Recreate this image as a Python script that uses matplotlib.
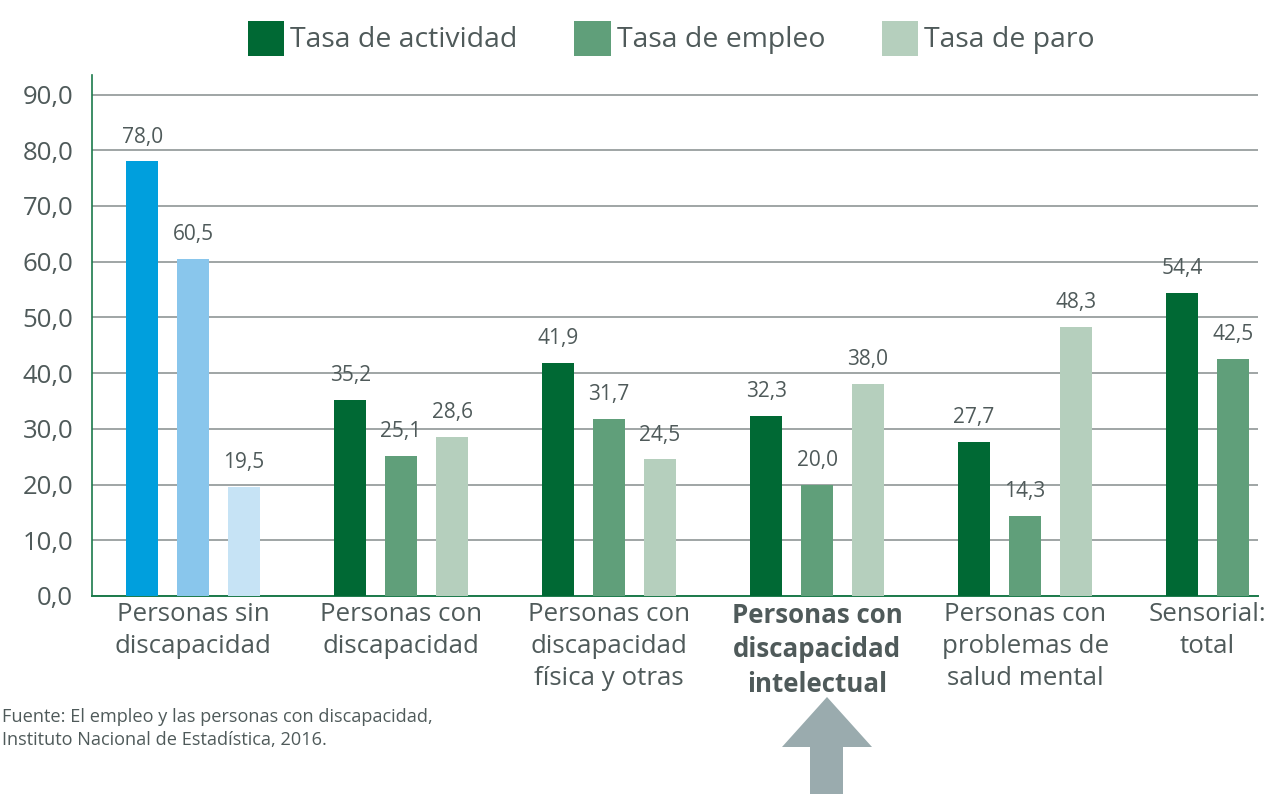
import matplotlib
matplotlib.use("Agg")
import matplotlib.pyplot as plt
from matplotlib.patches import Polygon
import numpy as np

plt.rcParams['font.family'] = ['Open Sans', 'DejaVu Sans']

categories = ["Personas sin\ndiscapacidad", "Personas con\ndiscapacidad",
              "Personas con\ndiscapacidad\nfísica y otras",
              "Personas con\ndiscapacidad\nintelectual",
              "Personas con\nproblemas de\nsalud mental", "Sensorial:\ntotal"]
series_names = ["Tasa de actividad", "Tasa de empleo", "Tasa de paro"]
actividad = [78.0, 35.2, 41.9, 32.3, 27.7, 54.4]
empleo = [60.5, 25.1, 31.7, 20.0, 14.3, 42.5]
paro = [19.5, 28.6, 24.5, 38.0, 48.3, None]
yticks = [0, 10, 20, 30, 40, 50, 60, 70, 80, 90]

green_cols = ["#006934", "#609f7a", "#b5cfbd"]
blue_cols = ["#009fdd", "#89c6ec", "#c6e3f5"]
text_col = "#4f5a5a"

fig = plt.figure(figsize=(12.71, 7.94), dpi=100)
ax = fig.add_axes([0.0724, 0.2494, 0.9174, 0.6561])

offset = 0.245
width = 0.155
x = np.arange(len(categories))
handles = []
for si, vals in enumerate([actividad, empleo, paro]):
    for gi, v in enumerate(vals):
        if v is None:
            continue
        col = blue_cols[si] if gi == 0 else green_cols[si]
        bx = x[gi] + (si - 1) * offset
        b = ax.bar(bx, v, width=width, color=col, zorder=3)
        ax.annotate(f"{v:.1f}".replace(".", ","), (bx, v), xytext=(0, 10),
                    textcoords="offset points", ha="center", va="bottom",
                    fontsize=15, color=text_col)
        if gi == 1:
            handles.append(b)

ax.set_xlim(-0.486, 5.12)
ax.set_ylim(0, 93.5)
ax.set_yticks(yticks)
ax.set_yticklabels([f"{t:.1f}".replace(".", ",") for t in yticks], fontsize=18.5, color=text_col)
ax.tick_params(axis='y', length=0, pad=13.5)
ax.tick_params(axis='x', length=0, pad=4)
xt = list(x[:5]) + [x[5] - offset / 2]
ax.set_xticks(xt)
ax.set_xticklabels(categories, fontsize=18.6, color=text_col, linespacing=1.37)
ax.get_xticklabels()[3].set_fontweight('bold')

ax.yaxis.grid(True, color="#9fa5a5", linewidth=1.4, zorder=0)
ax.set_axisbelow(True)
for s in ['top', 'right']:
    ax.spines[s].set_visible(False)
ax.spines['left'].set_color("#1b7a4b")
ax.spines['bottom'].set_color("#1b7a4b")
ax.spines['left'].set_linewidth(1.2)
ax.spines['bottom'].set_linewidth(1.4)

fig.legend(handles, series_names, loc='center', bbox_to_anchor=(0.528, 0.952), ncol=3,
           frameon=False, fontsize=20.4, handlelength=1.3, handleheight=1.52,
           handletextpad=0.2, columnspacing=2.0, labelcolor=text_col)

fig.text(0.0016, 0.0825, "Fuente: El empleo y las personas con discapacidad,\nInstituto Nacional de Estadística, 2016.",
         fontsize=13.1, color=text_col, va='center', ha='left', linespacing=1.35)

# arrow
W, H = 1271, 794
pts = [(782, 747), (827, 697), (872, 747), (843, 747), (843, 794), (810, 794), (810, 747)]
arrow = Polygon([(px / W, 1 - py / H) for px, py in pts], closed=True,
                transform=fig.transFigure, facecolor="#9aabae", edgecolor='none')
fig.patches.append(arrow)

fig.savefig("out.png", dpi=100)
